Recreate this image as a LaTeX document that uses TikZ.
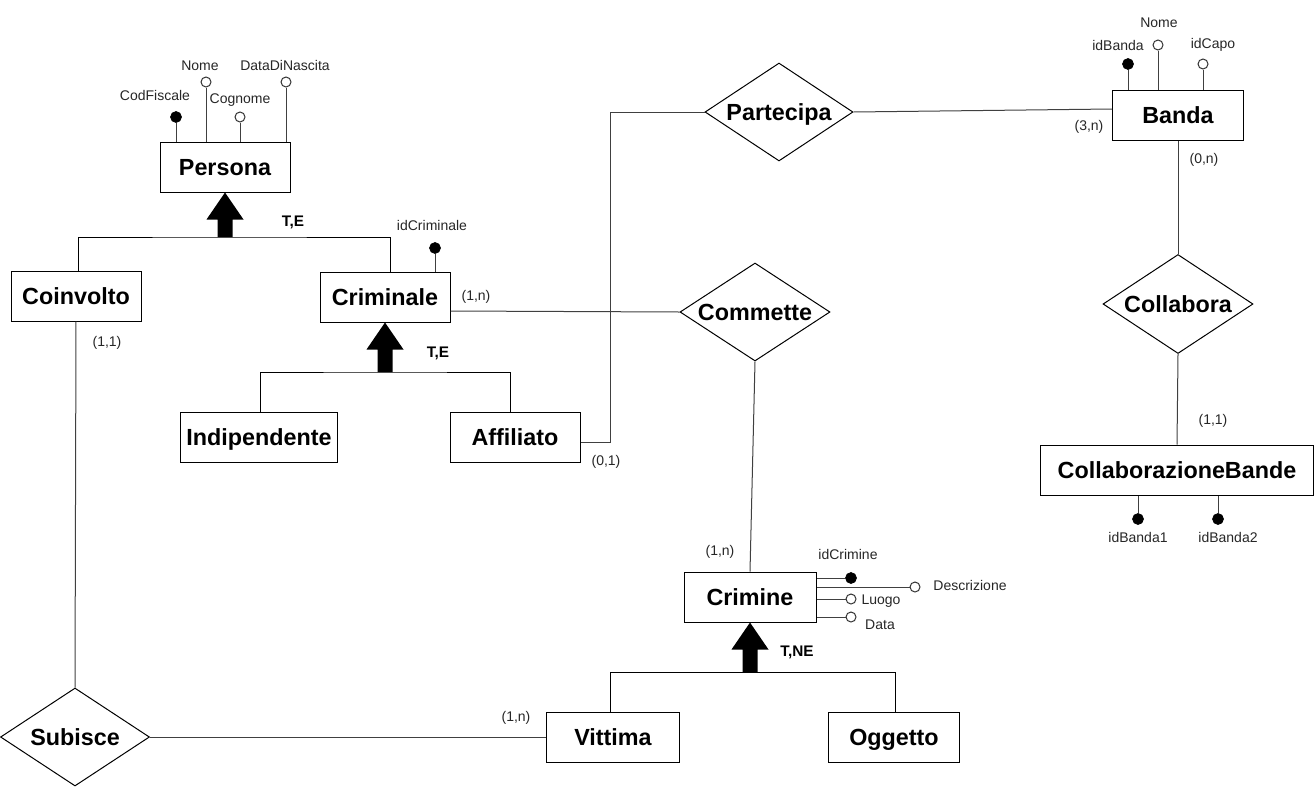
\documentclass[tikz,border=0pt]{standalone}
\usepackage{fontspec}
\setmainfont{Liberation Sans}
\usetikzlibrary{shapes.geometric,calc}
\tikzset{
 ent/.style={draw=black, line width=0.75pt, inner sep=0pt, minimum height=37.5pt, minimum width=97.5pt, text height=12.5pt, text depth=0pt, font=\bfseries\fontsize{17.5}{20}\selectfont},
 rel/.style={diamond, aspect=1.6, draw=black, line width=0.75pt, inner sep=0pt, minimum width=111pt, minimum height=73.5pt, text height=12.5pt, text depth=0pt, font=\bfseries\fontsize{17.5}{20}\selectfont},
 keyattr/.style={circle, draw=black, fill=black, inner sep=0pt, minimum size=8pt, line width=0.75pt},
 attr/.style={circle, draw=black!80, fill=white, inner sep=0pt, minimum size=7.5pt, line width=0.75pt},
 lbl/.style={inner sep=0pt, font=\fontsize{10.5}{12}\selectfont, text=black!85},
 isalbl/.style={inner sep=0pt, font=\bfseries\fontsize{11.5}{13}\selectfont},
 conn/.style={draw=black!75, line width=0.75pt},
 isaline/.style={draw=black, line width=0.75pt},
}
\newcommand{\isaarrow}[2]{\fill ($(#1)+(-7.5,0)$) -- ($(#2)+(-7.5,27)$) -- ($(#2)+(-18.5,27)$) -- (#2) -- ($(#2)+(18.5,27)$) -- ($(#2)+(7.5,27)$) -- ($(#1)+(7.5,0)$) -- cycle;}
\begin{document}
\begin{tikzpicture}[x=0.75pt,y=-0.75pt]
\useasboundingbox (0,0) rectangle (1316,789);

% entities
\node[ent] (Persona) at (225,167) {Persona};
\node[ent] (Coinvolto) at (76,296) {Coinvolto};
\node[ent] (Criminale) at (385,297) {Criminale};
\node[ent, minimum width=117.75pt] (Indipendente) at (259,437) {Indipendente};
\node[ent] (Affiliato) at (515,437) {Affiliato};
\node[ent, minimum width=98.25pt] (Banda) at (1178,115) {Banda};
\node[ent, minimum width=204.75pt] (CB) at (1177,470) {CollaborazioneBande};
\node[ent, minimum width=99pt] (Crimine) at (750,597) {Crimine};
\node[ent, minimum width=99.75pt] (Vittima) at (613,737) {Vittima};
\node[ent, minimum width=98.25pt] (Oggetto) at (894,737) {Oggetto};

% relationships
\node[rel] (Partecipa) at (779,112) {Partecipa};
\node[rel, minimum width=112.5pt, minimum height=74.25pt] (Collabora) at (1178,304) {Collabora};
\node[rel, minimum width=112.5pt] (Commette) at (755,312) {Commette};
\node[rel, minimum width=111.75pt] (Subisce) at (75,737) {Subisce};

% generalisations
\coordinate (isa1) at (225,237);
\coordinate (isa2) at (385,372);
\coordinate (isa3) at (750,672);
\draw[isaline] ($(Coinvolto.north)+(2,0)$) |- (isa1) -| ($(Criminale.north)+(5,0)$);
\isaarrow{isa1}{Persona.south}
\node[isalbl] (te1) at (293,222) {T,E};
\draw[isaline] ($(Indipendente.north)+(1,0)$) |- (isa2) -| ($(Affiliato.north)+(-5,0)$);
\isaarrow{isa2}{Criminale.south}
\node[isalbl] (te2) at (438,353) {T,E};
\draw[isaline] ($(Vittima.north)+(-3,0)$) |- (isa3) -| ($(Oggetto.north)+(1,0)$);
\isaarrow{isa3}{Crimine.south}
\node[isalbl] (tne) at (797,652) {T,NE};

% connectors
\draw[conn] ($(Affiliato.east)+(0,5)$) -- ++(30,0) |- (Partecipa.west);
\draw[conn] (Partecipa.east) -- ($(Banda.west)+(0,-6)$);
\draw[conn] ($(Criminale.east)+(0,14)$) -- (Commette.west);
\draw[conn] (Commette.south) -- (Crimine.north);
\draw[conn] (Banda.south) -- (Collabora.north);
\draw[conn] (Collabora.south) -- (CB.north);
\draw[conn] (Coinvolto.south) -- (Subisce.north);
\draw[conn] (Subisce.east) -- (Vittima.west);

% cardinalities
\node[lbl] (c1) at (476,297) {(1,n)};
\node[lbl] (c2) at (606,462) {(0,1)};
\node[lbl] (c3) at (1089,127) {(3,n)};
\node[lbl] (c4) at (1204,160) {(0,n)};
\node[lbl] (c5) at (1213,421) {(1,1)};
\node[lbl] (c6) at (720,552) {(1,n)};
\node[lbl] (c7) at (516,718) {(1,n)};
\node[lbl] (c8) at (107,343) {(1,1)};

% Persona attributes
\node[keyattr] (cf) at (176,117) {};
\draw[conn] (cf) -- (cf |- Persona.north);
\node[lbl] (cfl) at (155,95) {CodFiscale};
\node[attr] (nome) at (206,82) {};
\draw[conn] (nome) -- (nome |- Persona.north);
\node[lbl] (nomel) at (200,66) {Nome};
\node[attr] (cogn) at (240,117) {};
\draw[conn] (cogn) -- (cogn |- Persona.north);
\node[lbl] (cognl) at (240,100) {Cognome};
\node[attr] (ddn) at (286,82) {};
\draw[conn] (ddn) -- (ddn |- Persona.north);
\node[lbl] (ddnl) at (285,65) {DataDiNascita};

% Criminale attribute
\node[keyattr] (idcri) at (435,248) {};
\draw[conn] (idcri) -- (idcri |- Criminale.north);
\node[lbl] (idcril) at (432,225) {idCriminale};

% Banda attributes
\node[keyattr] (idb) at (1128,64) {};
\draw[conn] (idb) -- (idb |- Banda.north);
\node[lbl] (idbl) at (1118,45) {idBanda};
\node[attr] (bnome) at (1158,45) {};
\draw[conn] (bnome) -- (bnome |- Banda.north);
\node[lbl] (bnomel) at (1159,23) {Nome};
\node[attr] (idcapo) at (1203,64) {};
\draw[conn] (idcapo) -- (idcapo |- Banda.north);
\node[lbl] (idcapol) at (1213,45) {idCapo};

% CollaborazioneBande attributes
\node[keyattr] (idb1) at (1138,519) {};
\draw[conn] (idb1) -- (idb1 |- CB.south);
\node[lbl] (idb1l) at (1138,537) {idBanda1};
\node[keyattr] (idb2) at (1218,519) {};
\draw[conn] (idb2) -- (idb2 |- CB.south);
\node[lbl] (idb2l) at (1228,537) {idBanda2};

% Crimine attributes
\node[keyattr] (idcr) at (851,578) {};
\draw[conn] (idcr) -- (idcr -| Crimine.east);
\node[lbl] (idcrl) at (848,554) {idCrimine};
\node[attr] (descr) at (915,587) {};
\draw[conn] (descr) -- (descr -| Crimine.east);
\node[lbl] (descrl) at (970,585) {Descrizione};
\node[attr] (luogo) at (851,599) {};
\draw[conn] (luogo) -- (luogo -| Crimine.east);
\node[lbl] (luogol) at (881,601) {Luogo};
\node[attr] (data) at (851,617) {};
\draw[conn] (data) -- (data -| Crimine.east);
\node[lbl] (datal) at (880,625) {Data};
\end{tikzpicture}
\end{document}
